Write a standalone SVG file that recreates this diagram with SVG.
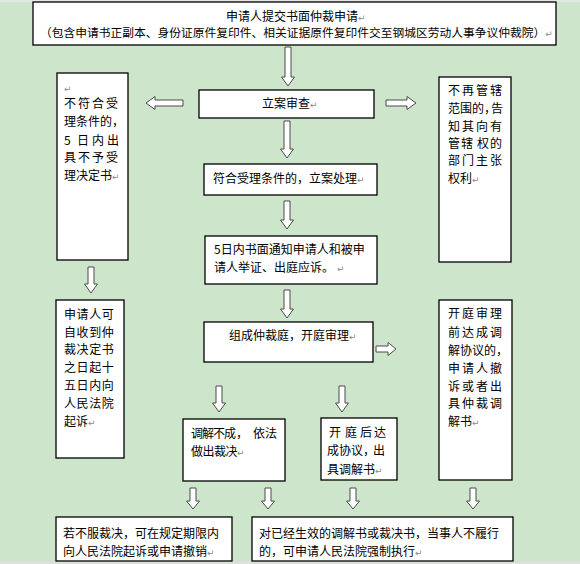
<svg xmlns="http://www.w3.org/2000/svg" width="580" height="564" viewBox="0 0 580 564">
<style>
.t{font-family:"Noto Sans CJK SC","Noto Sans CJK JP",sans-serif;font-size:12px;fill:#000}
.pm{font-family:"DejaVu Sans",sans-serif;font-size:9px;fill:#8a8a8a}
.box{fill:#fff;stroke:#000;stroke-width:1.3}
.arr{fill:#fff;stroke:#4a4a4a;stroke-width:1}
</style>
<rect x="0" y="0" width="580" height="564" fill="#CDE6CB"/>
<rect x="0" y="0" width="580" height="2" fill="#E4E8E4"/>
<rect x="0" y="561" width="580" height="3" fill="#DCDFDC"/>

<g id="connectors">
<path class="arr" d="M285,47 H291 V77 H294.5 L288,86 L281.5,77 H285 Z"/>
<path class="arr" d="M284,121 H290 V149 H293.5 L287,158 L280.5,149 H284 Z"/>
<path class="arr" d="M284,201 H290 V220 H293.5 L287,229 L280.5,220 H284 Z"/>
<path class="arr" d="M284,290 H290 V309 H293.5 L287,318 L280.5,309 H284 Z"/>
<path class="arr" d="M88,267 H94 V284 H97.5 L91,293 L84.5,284 H88 Z"/>
<path class="arr" d="M216,386 H222 V403 H225.5 L219,412 L212.5,403 H216 Z"/>
<path class="arr" d="M339,386 H345 V403 H348.5 L342,412 L335.5,403 H339 Z"/>
<path class="arr" d="M190,488 H196 V501 H199.5 L193,509 L186.5,501 H190 Z"/>
<path class="arr" d="M265,488 H271 V501 H274.5 L268,509 L261.5,501 H265 Z"/>
<path class="arr" d="M350,488 H356 V501 H359.5 L353,509 L346.5,501 H350 Z"/>
<path class="arr" d="M470,488 H476 V501 H479.5 L473,509 L466.5,501 H470 Z"/>
<path class="arr" d="M183,100 V106 H155 V109.5 L146,103 L155,96.5 V100 Z"/>
<path class="arr" d="M386,100 V106 H407 V109.5 L416,103 L407,96.5 V100 Z"/>
<path class="arr" d="M376,346 V352 H388 V355.5 L396,349 L388,342.5 V346 Z"/>
</g>

<g id="n1">
<rect class="box" x="33" y="2" width="523" height="43"/>
<text class="t" x="226" y="21">申请人提交书面仲裁申请<tspan class="pm" x="358">↵</tspan></text>
<text class="t" x="40" y="37" style="font-size:11.75px">（包含申请书正副本、身份证原件复印件、相关证据原件复印件交至钢城区劳动人事争议仲裁院）<tspan class="pm">↵</tspan></text>
</g>

<g id="n2">
<rect class="box" x="199" y="90" width="175" height="28"/>
<text class="t" x="262" y="108">立案审查<tspan class="pm">↵</tspan></text>
</g>

<g id="n3">
<rect class="box" x="57" y="73" width="71" height="187"/>
<text class="pm" x="64" y="92">↵</text>
<text class="t" x="64 78 92 106" y="108">不符合受</text>
<text class="t" x="64" y="126">理条件的，</text>
<text class="t" x="64 77 92 107" y="144.5">5日内出</text>
<text class="t" x="64 78 92 106" y="162">具不予受</text>
<text class="t" x="64" y="180">理决定书<tspan class="pm">↵</tspan></text>
</g>

<g id="n4">
<rect class="box" x="439" y="77" width="72" height="185"/>
<text class="t" x="448 462 476 490" y="94.5">不再管辖</text>
<text class="t" x="448 460 472 484 491" y="113">范围的，告</text>
<text class="t" x="448 462 476 490" y="130.5">知其向有</text>
<text class="t" x="448 461 477 490" y="147.5">管辖权的</text>
<text class="t" x="448 462 476 490" y="164.5">部门主张</text>
<text class="t" x="448" y="183">权利<tspan class="pm">↵</tspan></text>
</g>

<g id="n5">
<rect class="box" x="204" y="164" width="173" height="31"/>
<text class="t" x="213" y="182.5">符合受理条件的，立案处理<tspan class="pm">↵</tspan></text>
</g>

<g id="n6">
<rect class="box" x="205" y="236" width="172" height="48"/>
<text class="t" x="214" y="253.5">5日内书面通知申请人和被申</text>
<text class="t" x="214" y="271.5">请人举证、出庭应诉。<tspan class="pm" x="337">↵</tspan></text>
</g>

<g id="n7">
<rect class="box" x="204" y="322" width="169" height="40"/>
<text class="t" x="229" y="339.5">组成仲裁庭，开庭审理<tspan class="pm">↵</tspan></text>
</g>

<g id="n8">
<rect class="box" x="56" y="300" width="68" height="158"/>
<text class="t" x="64" y="318.5" letter-spacing="0.6">申请人可</text>
<text class="t" x="64" y="336.5" letter-spacing="0.6">自收到仲</text>
<text class="t" x="64" y="354" letter-spacing="0.6">裁决定书</text>
<text class="t" x="64" y="371.5" letter-spacing="0.6">之日起十</text>
<text class="t" x="64" y="389.5" letter-spacing="0.6">五日内向</text>
<text class="t" x="64" y="407.5" letter-spacing="0.6">人民法院</text>
<text class="t" x="64" y="425.5">起诉<tspan class="pm">↵</tspan></text>
</g>

<g id="n9">
<rect class="box" x="439" y="300" width="73" height="180"/>
<text class="t" x="448 462 476 490" y="317.5">开庭审理</text>
<text class="t" x="448 462 476 490" y="336.5">前达成调</text>
<text class="t" x="448" y="354.5">解协议的，</text>
<text class="t" x="448 462 476 490" y="372.5">申请人撤</text>
<text class="t" x="448 462 476 490" y="390.5">诉或者出</text>
<text class="t" x="448 462 476 490" y="407.5">具仲裁调</text>
<text class="t" x="448" y="425.5">解书<tspan class="pm">↵</tspan></text>
</g>

<g id="n10">
<rect class="box" x="183" y="419" width="102" height="62"/>
<text class="t" x="191 202 213 224 236 253 265" y="437.5">调解不成，依法</text>
<text class="t" x="191 202.5 214 225.5" y="455.5">做出裁决</text>
<text class="pm" x="237" y="455.5">↵</text>
</g>

<g id="n11">
<rect class="box" x="321" y="418" width="76" height="62"/>
<text class="t" x="329 345 360 374" y="436.5">开庭后达</text>
<text class="t" x="327 339 351 363 373" y="454.5">成协议，出</text>
<text class="t" x="327" y="473.5">具调解书<tspan class="pm">↵</tspan></text>
</g>

<g id="n12">
<rect class="box" x="56" y="517" width="176" height="44"/>
<text class="t" x="63" y="537.5">若不服裁决，可在规定期限内</text>
<text class="t" x="63" y="555.5">向人民法院起诉或申请撤销<tspan class="pm">↵</tspan></text>
</g>

<g id="n13">
<rect class="box" x="252" y="517" width="261" height="44"/>
<text class="t" x="259" y="537.5">对已经生效的调解书或裁决书，当事人不履行</text>
<text class="t" x="259" y="555.5">的，可申请人民法院强制执行<tspan class="pm">↵</tspan></text>
</g>
</svg>
